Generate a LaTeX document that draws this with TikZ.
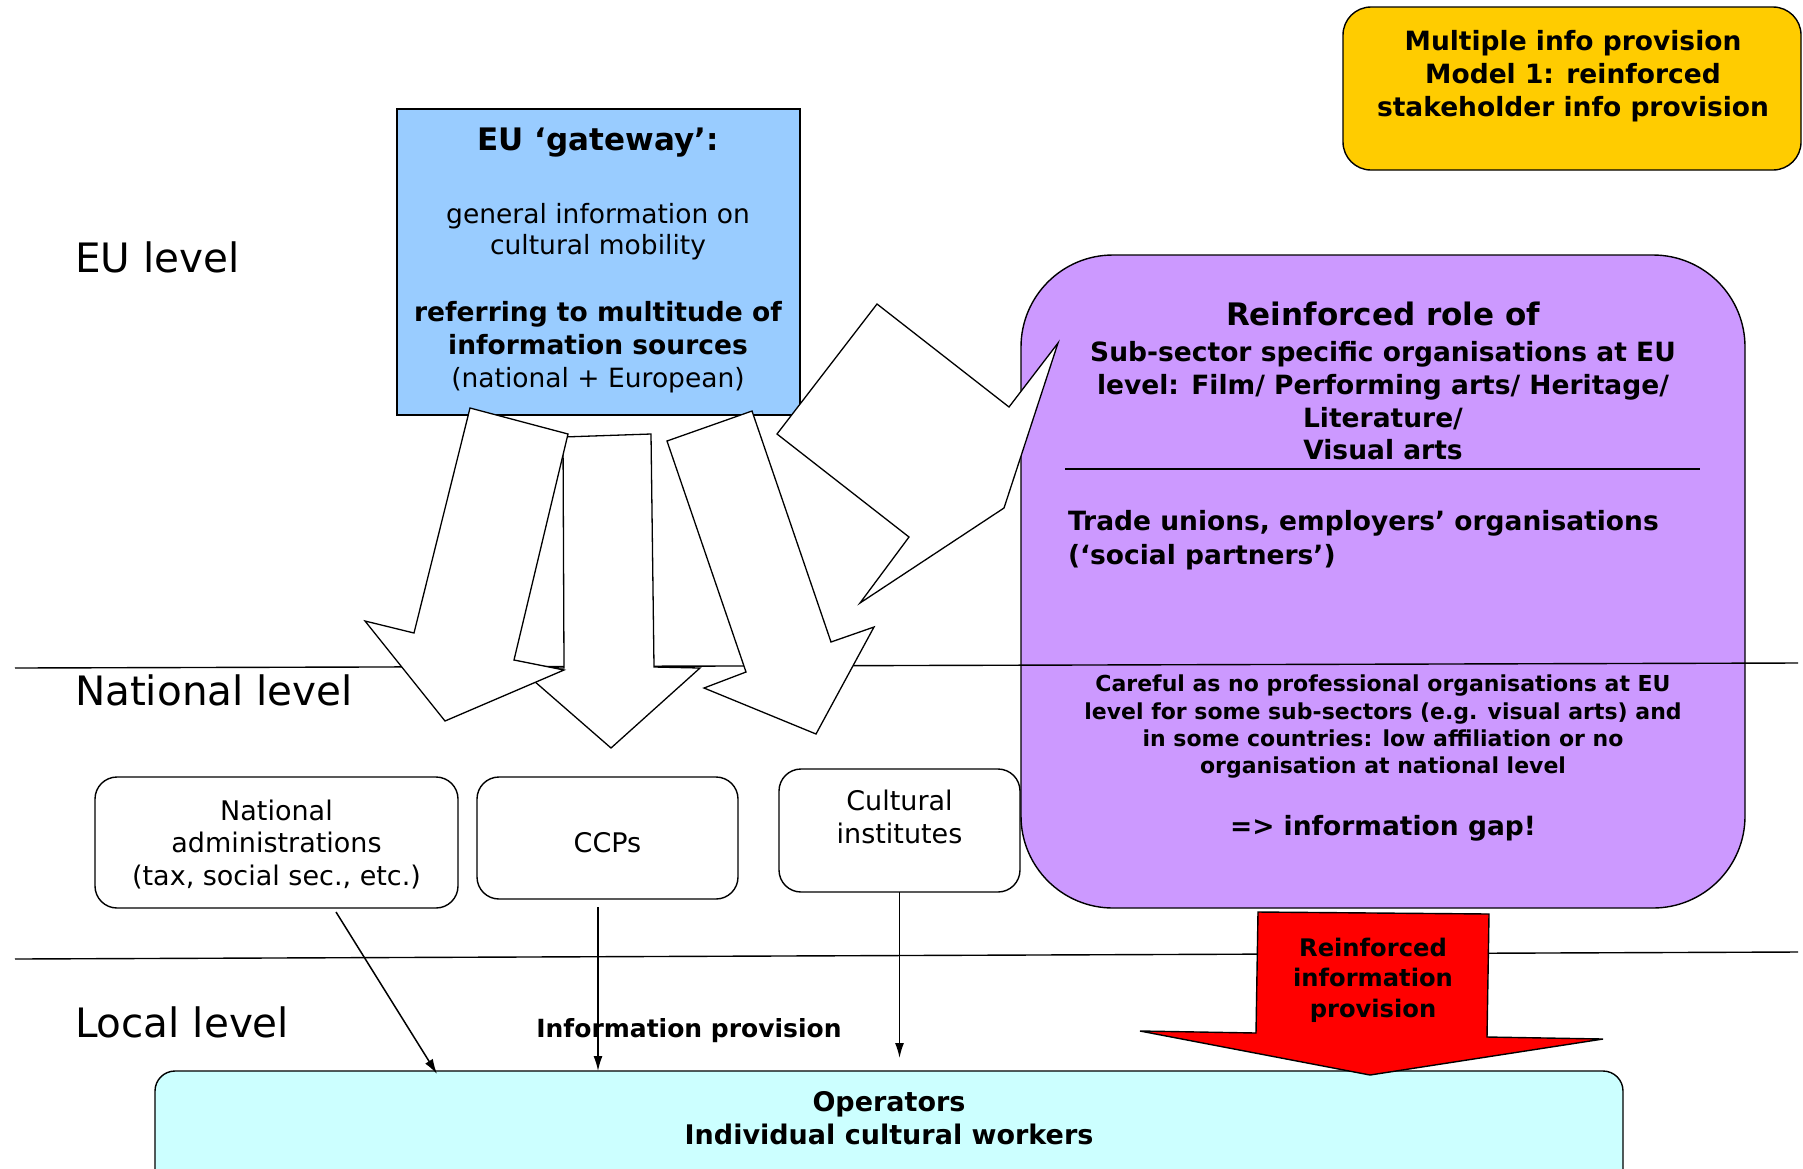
\documentclass[tikz,border=0pt]{standalone}
\usepackage{fontspec}
\setmainfont{DejaVu Sans}
\usetikzlibrary{arrows.meta,calc}

\definecolor{gatewayblue}{HTML}{99CCFF}
\definecolor{rolepurple}{HTML}{CC99FF}
\definecolor{modelyellow}{HTML}{FFCC00}
\definecolor{operatorcyan}{HTML}{CCFFFF}

\newcommand{\fsz}[2]{\fontsize{#1}{#2}\selectfont}

\begin{document}
\begin{tikzpicture}[x=1pt,y=-1pt,
  box/.style={draw=black, line width=1.4pt, inner sep=0pt, outer sep=0pt},
  txt/.style={inner sep=0pt, outer sep=0pt, align=center},
  blockarrow/.style={draw=black, fill=white, line width=1.3pt, line join=miter},
  level/.style={inner sep=0pt, outer sep=0pt, anchor=base west, font=\fsz{40.5}{47}},
  infoarrow/.style={line width=1.5pt, -{Latex[length=15pt,width=9pt]}},
  rule/.style={line width=1.4pt}
]
\useasboundingbox[fill=white] (0,0) rectangle (1803,1168);

% ---- EU level boxes ----
\node[box, fill=gatewayblue, minimum width=403pt, minimum height=306pt] (gate) at (598.5,262) {};
\node[box, fill=modelyellow, rounded corners=28pt, minimum width=458pt, minimum height=163pt] (model) at (1572,88.5) {};
\node[box, fill=rolepurple, rounded corners=92pt, minimum width=724pt, minimum height=653pt] (role) at (1383,581.5) {};

\node[txt, anchor=north, font=\fsz{26.5}{33}\bfseries] (modeltxt) at (1573,30.5)
  {Multiple info provision\\Model 1: reinforced\\stakeholder info provision};

\node[txt, anchor=base, font=\fsz{31}{37}\bfseries] (gatehead) at (598,150) {EU ‘gateway’:};
\node[txt, anchor=north, font=\fsz{26.5}{31}] (gatebody) at (598,203)
  {general information on\\cultural mobility};
\node[txt, anchor=north, font=\fsz{26.5}{33}] (gatesrc) at (598,301)
  {\bfseries referring to multitude of\\\bfseries information sources\\(national + European)};

\node[txt, anchor=base, font=\fsz{31}{37}\bfseries] (rolehead) at (1383,325) {Reinforced role of};
\node[txt, anchor=north, font=\fsz{26.5}{32.7}\bfseries] (rolesub) at (1383,341.5)
  {Sub-sector specific organisations at EU\\level: Film/ Performing arts/ Heritage/\\Literature/\\Visual arts};
\draw[rule] (1065,469) -- (1700,469);
\node[txt, align=left, anchor=north west, font=\fsz{26.5}{34}\bfseries] (rolesoc) at (1068,510)
  {Trade unions, employers’ organisations\\(‘social partners’)};
\node[txt, anchor=north, font=\fsz{22}{27.3}\bfseries] (rolewarn) at (1383,675)
  {Careful as no professional organisations at EU\\level for some sub-sectors (e.g. visual arts) and\\in some countries: low affiliation or no\\organisation at national level};
\node[txt, anchor=base, font=\fsz{26.5}{32}\bfseries] (rolegap) at (1383,835) {=> information gap!};

% ---- level labels and dividing lines ----
\node[level] (eulevel) at (75,272) {EU level};
\node[level] (natlevel) at (75,705) {National level};
\node[level] (loclevel) at (75,1037) {Local level};
\draw[rule] (15,668) -- (1798,663);
\draw[rule] (15,959) -- (1798,952);

% ---- block arrows from the gateway ----
\draw[blockarrow] (563,437) -- (651,434) -- (654,667) -- (700,668) -- (611,748) -- (518,667) -- (564,668) -- cycle;
\draw[blockarrow] (470,408) -- (568,434) -- (514,660) -- (564,670) -- (445,721) -- (365,621) -- (414,633) -- cycle;
\draw[blockarrow] (667,441) -- (752,411) -- (831,642) -- (874,627) -- (816,734) -- (704,688) -- (746,672) -- cycle;
\draw[blockarrow] (877,304) -- (1009,407) -- (1058,343) -- (1004,508) -- (860,603) -- (909,537) -- (777,434) -- cycle;

% ---- national providers ----
\node[box, rounded corners=22pt, minimum width=363pt, minimum height=131pt] (natadm) at (276.5,842.5) {};
\node[box, rounded corners=22pt, minimum width=261pt, minimum height=122pt] (ccp) at (607.5,838) {};
\node[box, rounded corners=22pt, minimum width=241pt, minimum height=123pt] (cult) at (899.5,830.5) {};
\node[txt, anchor=north, font=\fsz{27}{32.5}] (natadmtxt) at (276.5,799.5)
  {National\\administrations\\(tax, social sec., etc.)};
\node[txt, anchor=base, font=\fsz{27}{32.5}] (ccptxt) at (607.5,852) {CCPs};
\node[txt, anchor=north, font=\fsz{27}{33.5}] (culttxt) at (899.5,789.5)
  {Cultural\\institutes};

% ---- local operators ----
\node[box, fill=operatorcyan, rounded corners=20pt, minimum width=1468pt, minimum height=130pt] (ops) at (889,1136) {};
\node[txt, anchor=north, font=\fsz{27}{33}\bfseries] (opstxt) at (889,1091)
  {Operators\\Individual cultural workers};

\node[txt, anchor=base, font=\fsz{25}{30}\bfseries] (infolabel) at (689,1037) {Information provision};

\draw[infoarrow] ($(natadm.south)+(59.5,4)$) -- ($(ops.north)+(-452,3)$);
\draw[infoarrow] ($(ccp.south)+(-9.5,8)$) -- ($(ops.north)+(-291,0)$);
\draw[infoarrow] (cult.south) -- ($(ops.north)+(10.5,-13)$);

% ---- reinforced provision arrow ----
\draw[draw=black, fill=red, line width=1.4pt, line join=miter]
  (1258,912) -- (1489,914) -- (1487,1037) -- (1603,1039) -- (1370,1075) -- (1140,1031) -- (1256,1033) -- cycle;
\node[txt, anchor=north, font=\fsz{24.2}{30.5}\bfseries] (reinftxt) at (1373,938)
  {Reinforced\\information\\provision};
\end{tikzpicture}
\end{document}
